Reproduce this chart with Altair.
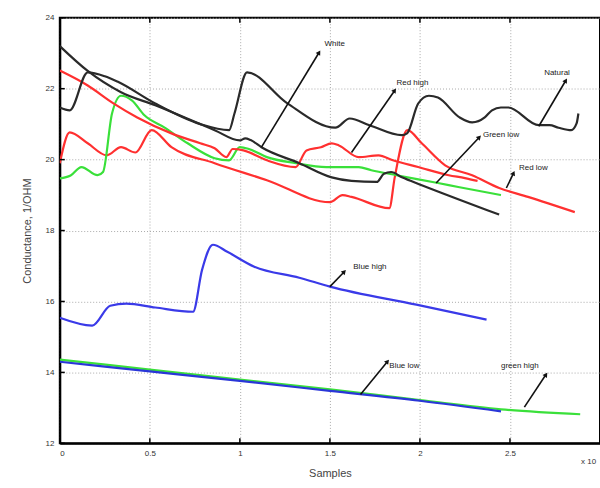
import math
import altair as alt
import pandas as pd

# ---------------- data ----------------
white_x = [0, 0.155, 0.34, 0.53, 0.86, 1.0, 1.03, 1.06, 1.12, 1.33, 1.51, 1.62, 1.76, 1.8, 1.84, 1.9, 2.01, 2.44]
white_y = [23.2, 22.5, 21.9, 21.53, 20.83, 20.54, 20.6, 20.55, 20.35, 19.9, 19.5, 19.4, 19.37, 19.6, 19.65, 19.5, 19.28, 18.45]

natural_x = [0, 0.055, 0.155, 0.25, 0.32, 0.53, 0.78, 0.94, 0.97, 1.04, 1.26, 1.53, 1.61, 1.72, 1.9, 1.93,
             1.99, 2.05, 2.1, 2.22, 2.29, 2.36, 2.4, 2.45, 2.49, 2.66, 2.72, 2.77, 2.84, 2.87, 2.88]
natural_y = [21.47, 21.39, 22.46, 22.35, 22.2, 21.58, 21.0, 20.83, 21.3, 22.46, 21.6, 20.9, 21.16, 20.97, 20.69, 20.75,
             21.58, 21.8, 21.75, 21.19, 21.05, 21.19, 21.39, 21.47, 21.47, 20.97, 20.97, 20.9, 20.83, 21.02, 21.3]

red_high_x = [0, 0.155, 0.3, 0.43, 0.62, 0.78, 0.86, 0.925, 0.96, 1.02, 1.15, 1.31, 1.37, 1.45, 1.51, 1.55,
              1.66, 1.77, 1.85, 1.99, 2.16, 2.25, 2.32]
red_high_y = [22.51, 22.09, 21.58, 21.19, 20.74, 20.46, 20.32, 20.07, 20.3, 20.26, 19.98, 19.79, 20.26, 20.35, 20.46, 20.4,
              20.07, 20.12, 19.98, 19.79, 19.56, 19.48, 19.4]

red_low_x = [0, 0.055, 0.155, 0.26, 0.34, 0.42, 0.51, 0.62, 0.86, 1.15, 1.5, 1.57, 1.62, 1.83, 1.86, 1.93,
             2.01, 2.14, 2.29, 2.44, 2.6, 2.86]
red_low_y = [19.9, 20.77, 20.46, 20.12, 20.35, 20.2, 20.83, 20.35, 19.9, 19.42, 18.8, 19.0, 18.95, 18.63, 19.5, 20.83,
             20.46, 19.84, 19.56, 19.2, 18.95, 18.52]

green_low_x = [0, 0.06, 0.12, 0.21, 0.24, 0.29, 0.34, 0.4, 0.47, 0.58, 0.71, 0.86, 0.94, 1.0, 1.05, 1.15,
               1.31, 1.48, 1.66, 1.73, 1.87, 2.1, 2.22, 2.45]
green_low_y = [19.47, 19.55, 19.79, 19.56, 19.65, 21.3, 21.8, 21.67, 21.25, 20.91, 20.46, 20.04, 19.98, 20.35, 20.3, 20.07,
               19.9, 19.79, 19.79, 19.7, 19.56, 19.34, 19.22, 19.0]

blue_high_x = [0, 0.18, 0.28, 0.37, 0.53, 0.74, 0.79, 0.85, 0.93, 1.08, 1.33, 1.5, 1.98, 2.37]
blue_high_y = [15.54, 15.32, 15.88, 15.94, 15.83, 15.71, 16.89, 17.6, 17.4, 16.98, 16.67, 16.42, 15.91, 15.49]

green_high_x = [0, 0.5, 1.0, 1.5, 2.0, 2.45, 2.89]
green_high_y = [14.36, 14.08, 13.8, 13.52, 13.22, 12.96, 12.82]

blue_low_x = [0, 0.5, 1.0, 1.5, 2.0, 2.45]
blue_low_y = [14.3, 14.03, 13.76, 13.48, 13.2, 12.9]

series_names = ["Green high", "Blue low", "Blue high", "Red low", "Green low", "Red high", "White", "Natural"]
series_x = [green_high_x, blue_low_x, blue_high_x, red_low_x, green_low_x, red_high_x, white_x, natural_x]
series_y = [green_high_y, blue_low_y, blue_high_y, red_low_y, green_low_y, red_high_y, white_y, natural_y]
series_colors = ["#3ae03a", "#2a36d8", "#3a3ae8", "#ff3030", "#3ae03a", "#ff3030", "#2a2a2a", "#2a2a2a"]

# annotations: label, arrow start (on curve), arrow tip, label position
ann_labels = ["White", "Red high", "Natural", "Green low", "Red low", "Blue high", "Blue low", "green high"]
ann_x1 = [1.12, 1.62, 2.66, 2.09, 2.48, 1.50, 1.67, 2.58]
ann_y1 = [20.35, 20.2, 20.94, 19.34, 19.2, 16.42, 13.38, 13.02]
ann_x2 = [1.44, 1.86, 2.81, 2.33, 2.52, 1.58, 1.82, 2.70]
ann_y2 = [23.02, 21.95, 22.23, 20.63, 19.62, 16.84, 14.31, 13.94]
ann_tx = [1.47, 1.87, 2.69, 2.35, 2.55, 1.63, 1.83, 2.45]
ann_ty = [23.27, 22.15, 22.45, 20.70, 19.75, 16.98, 14.17, 14.17]

x_ticks = [0, 0.5, 1, 1.5, 2, 2.5]
y_ticks = [12, 14, 16, 18, 20, 22, 24]

# ---------------- chart ----------------
W, H = 542, 427
FONT = "Liberation Sans"

xs = alt.Scale(domain=[0, 3], nice=False, zero=False)
ys = alt.Scale(domain=[12, 24], nice=False, zero=False)

X = alt.X("x:Q", scale=xs, axis=alt.Axis(
    values=x_ticks, format="~g", title="Samples", grid=True, ticks=False,
    labelPadding=6, titlePadding=10))
Y = alt.Y("y:Q", scale=ys, axis=alt.Axis(
    values=y_ticks, format="d", title="Conductance, 1/OHM", grid=True, ticks=False,
    labelPadding=6, titlePadding=12))

layers = []
for name, sx, sy, col in zip(series_names, series_x, series_y, series_colors):
    d = pd.DataFrame({"x": sx, "y": sy, "series": name, "i": range(len(sx))})
    layers.append(
        alt.Chart(d).mark_line(color=col, strokeWidth=2.2, clip=True, interpolate="monotone").encode(
            x=X, y=Y, order="i:Q")
    )

# inward tick marks
ytick_df = pd.DataFrame({"y": y_ticks})
xtick_df = pd.DataFrame({"x": x_ticks})
layers.append(alt.Chart(ytick_df).mark_rule(color="black", strokeWidth=1.5).encode(
    y=Y, x=alt.value(0), x2=alt.value(5)))
layers.append(alt.Chart(xtick_df).mark_rule(color="black", strokeWidth=1.5).encode(
    x=X, y=alt.value(H - 5), y2=alt.value(H)))
layers.append(alt.Chart(xtick_df).mark_rule(color="black", strokeWidth=1.5).encode(
    x=X, y=alt.value(0), y2=alt.value(5)))

# arrows
px_x = W / 3.0
px_y = H / 12.0
angles = []
for a, b, c, d in zip(ann_x1, ann_y1, ann_x2, ann_y2):
    dx = (c - a) * px_x
    dy = (d - b) * px_y
    ang = math.degrees(math.atan2(dx, dy)) % 360
    angles.append(ang)
arr_df = pd.DataFrame({"x": ann_x1, "y": ann_y1, "x2": ann_x2, "y2": ann_y2, "ang": angles})
layers.append(alt.Chart(arr_df).mark_rule(color="#111", strokeWidth=1.6).encode(
    x=X, y=Y, x2="x2:Q", y2="y2:Q"))
layers.append(alt.Chart(arr_df).mark_point(shape="triangle-up", filled=True, size=28, color="#111", opacity=1).encode(
    x=alt.X("x2:Q", scale=xs), y=alt.Y("y2:Q", scale=ys), angle=alt.Angle("ang:Q", scale=None)))

txt_df = pd.DataFrame({"x": ann_tx, "y": ann_ty, "label": ann_labels})
layers.append(alt.Chart(txt_df).mark_text(align="left", baseline="middle", fontSize=8, font=FONT,
                                          color="#222").encode(x=X, y=Y, text="label:N"))

# exponent note
note_df = pd.DataFrame({"t": ["x 10"]})
layers.append(alt.Chart(note_df).mark_text(align="left", baseline="middle", fontSize=8, font=FONT,
                                           color="#333").encode(x=alt.value(523), y=alt.value(446), text="t:N"))

chart = alt.layer(*layers).properties(
    width=W, height=H,
    autosize=alt.AutoSizeParams(type="none"),
    padding={"left": 60, "top": 17, "right": 0, "bottom": 44},
    background="white",
).configure_view(
    stroke="black", strokeWidth=2
).configure_axis(
    domainColor="black", domainWidth=2,
    gridColor="#aaaaaa", gridDash=[1, 2], gridWidth=1,
    labelFont=FONT, labelFontSize=8, labelColor="#333",
    titleFont=FONT, titleFontSize=11, titleColor="#444", titleFontWeight="normal",
)

chart.save("out.html", embed_options={"renderer": "svg", "actions": False})
